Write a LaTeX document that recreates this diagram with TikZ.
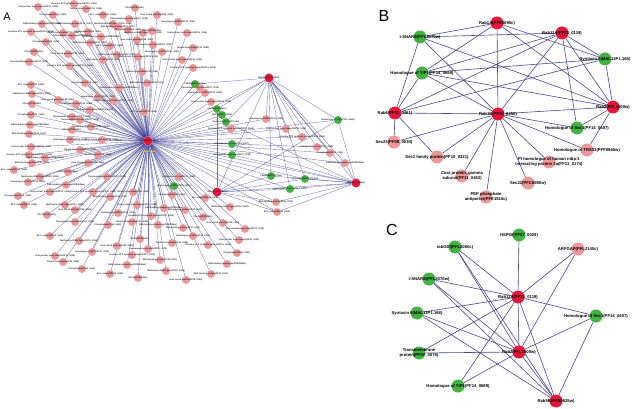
\documentclass[tikz,border=0pt]{standalone}
\usepackage{fontspec}
\setmainfont{Liberation Sans}
\usetikzlibrary{backgrounds}
\definecolor{nred}{RGB}{230,22,58}
\definecolor{ngreen}{RGB}{66,178,66}
\definecolor{npink}{RGB}{238,150,152}
\definecolor{edgeA}{RGB}{58,58,150}
\definecolor{edgeB}{RGB}{72,72,140}
\definecolor{hlyellow}{RGB}{235,215,40}
\newcommand\alab[1]{\ifcase#1 Homologue of ARF1(PF10\_0203)\or Coat protein, beta subunit(PF11\_0135)\or Vacuolar ATP synthase subunit(PF13\_0065)\or Tubulin beta chain(PF10\_0084)\or Phosphatase(PF14\_0142)\or DNA-binding chaperone(PFB0595w)\or RNA binding protein(PF10\_0217)\or EF-1 subunit(PF13\_0304)\or Methionine tRNA ligase(PF10\_0053)\or PDI-11(PFE0925c)\or Heat shock protein(PF08\_0054)\or Transmembrane protein(PF07\_0078)\fi}
\tikzset{
  nA/.style={circle, inner sep=0pt, minimum size=8pt},
  pinkA/.style={nA, fill=npink},
  greenA/.style={nA, fill=ngreen},
  redA/.style={nA, fill=nred, minimum size=9pt},
  tinylab/.style={font=\fontsize{2.2}{2.5}\selectfont\bfseries, text=black!85},
  nB/.style={circle, inner sep=0pt, minimum size=13pt},
  pinkB/.style={nB, fill=npink},
  greenB/.style={nB, fill=ngreen},
  redB/.style={nB, fill=nred},
  blab/.style={font=\fontsize{4.2}{4.8}\selectfont\bfseries, align=center},
  eA/.style={draw=edgeA, line width=0.35pt, opacity=0.7},
  eB/.style={draw=edgeB, line width=0.6pt},
  panelA/.style={font=\fontsize{11}{11}\selectfont},
  panel/.style={font=\fontsize{16}{16}\selectfont}
}
\begin{document}
\begin{tikzpicture}[x=1pt,y=-1pt]
\useasboundingbox (0,0) rectangle (632,409);
\begin{scope}[on background layer]
\fill[white] (0,0) rectangle (632,409);
\end{scope}
% ---------------- Panel A ----------------
\node[panelA] (labA) at (7,17) {A};
\node[redA] (hub) at (148,141) {};
\foreach \x/\y [count=\i] in {38/7,74/4,86/9,53/15,42/24,75/24,103/15,113/24,135/8,157/15,129/19,178/22,187/33,31/32,63/33,88/32,101/37,118/27,128/30,143/33,152/31,137/40,153/45,162/52,182/60,193/68,193/48,46/42,72/36,90/43,110/46,117/55,34/52,68/54,29/62,103/60,138/57,70/66,142/72,85/83,119/88,147/83,31/85,32/94,32/104,58/100,72/117,98/97,113/101,90/110,76/104,31/115,30/125,29/134,144/112,91/127,72/130,102/140,80/120,70/140,31/147,29/155,80/150,98/155,45/158,32/163,14/170,40/177,68/172,88/163,107/177,28/182,50/192,93/192,133/192,18/196,66/185,110/197,24/205,65/205,47/215,75/210,75/222,118/213,137/205,151/216,132/222,108/225,158/225,183/228,50/236,79/241,140/239,117/246,148/249,92/252,55/256,132/255,63/262,82/269,127/265,160/260,110/274,166/271,138/278,186/280,200/88,205/93,211/102,231/129,179/177,172/195,164/208,185/210,205/198,230/207,203/217,223/223,245/229,193/236,239/240,208/245,172/243,237/253,227/264,211/274} {
  \pgfmathtruncatemacro\k{mod(\i,12)}
  \node[pinkA] (p\i) at (\x,\y) {};
  \node[tinylab] (pl\i) at (p\i) {\alab{\k}};
  \begin{pgfonlayer}{background}
    \draw[eA] (hub) -- (p\i);
  \end{pgfonlayer}
}
% right-cluster pink
\foreach \n/\x/\y/\k in {q1/266/119/0,q2/286/129/1,q3/302/137/2,q4/317/147/3,q5/330/153/4,q6/345/163/5,q7/276/202/6,q8/277/212/7} {
  \node[pinkA] (\n) at (\x,\y) {};
  \node[tinylab] (\n l) at (\n) {\alab{\k}};
}
% green A
\foreach \n/\x/\y/\t in {g1/195/84/t-SNARE(PFL2070w),g2/217/109/rabGDI(PFL2060c),g3/222/115/HSP68(PF07\_0029),g4/226/122/Syntaxin 5(MAL13P1.168),g5/232/144/Homologue of Sec1(PF14\_0407),g6/232/155/Transmembrane protein(PF07\_0078),g7/338/120/Homologue of YIP1(PF14\_0689),g8/271/176/t-SNARE(PFL2070w),g9/305/179/Syntaxin 5(MAL13P1.168),g10/290/189/Homologue of Sec1(PF14\_0407),g11/174/186/Homologue of YIP1(PF14\_0689)} {
  \node[greenA] (\n) at (\x,\y) {};
  \node[tinylab] (\n l) at (\n) {\t};
}
\node[redA] (rT) at (269,78) {};
\node[tinylab] (rTl) at (rT) {Rab11A(PF13\_0119)};
\node[redA] (rR) at (356,183) {};
\node[tinylab] (rRl) at (rR) {Rab2(PFL1500w)};
\node[redA] (rB) at (217,192) {};
\node[tinylab] (rBl) at (rB) {Rab1A(PFE0690c)};
\node[tinylab] (hubl) at (hub) {Rab5B(PFE0625w)};
\node[font=\fontsize{2.6}{2.8}\selectfont\bfseries, text=hlyellow] (hubsel) at (149,152) {PFE0625w};
\begin{scope}[on background layer]
\foreach \n in {q1,q2,q3,q4,q5,q6,q7,q8,g1,g2,g3,g4,g5,g6,g7,g8,g9,g10,g11,rT,rR,rB}
  \draw[eA] (hub) -- (\n);
\foreach \n in {g1,g2,g4,q1,q2,q3,q4,q5,q6,g7,g8,g9,g10,rB,rR}
  \draw[eA] (rT) -- (\n);
\foreach \n in {g7,g5,g6,g8,g9,g10,q7,q8,rB,g4,q6}
  \draw[eA] (rR) -- (\n);
\foreach \n in {g2,g7,g8,g9,g10,q7,q8}
  \draw[eA] (rB) -- (\n);
\end{scope}
% ---------------- Panel B ----------------
\node[panel] (labB) at (384,16) {B};
\node[redB] (R6) at (497,23) {};
\node[redB] (R11) at (562,33) {};
\node[greenB] (TS) at (420,37) {};
\node[greenB] (SX) at (605,59) {};
\node[greenB] (YIP) at (422,73) {};
\node[redB] (R7) at (395,113) {};
\node[redB] (RC) at (498,114) {};
\node[redB] (R2) at (613,107) {};
\node[greenB] (S1) at (577,128) {};
\node[pinkB] (Sec2) at (394,142) {};
\node[pinkB] (S1F) at (437,157) {};
\node[pinkB] (Coat) at (462,176) {};
\node[pinkB] (PEP) at (486,197) {};
\node[pinkB] (Sec22) at (528,183) {};
\node[pinkB] (PI) at (549,162) {};
\node[pinkB] (TRS) at (587,150) {};
\begin{scope}[on background layer]
\foreach \a/\b in {R6/TS,R6/YIP,R6/RC,R6/SX,R6/R2,R11/TS,R11/YIP,R11/R7,R11/RC,R11/S1,R11/R2,R11/SX,TS/RC,TS/R2,TS/R7,SX/R7,SX/R2,SX/YIP,YIP/R2,YIP/R7,YIP/RC,R7/RC,RC/R2,RC/S1,RC/Sec2,RC/S1F,RC/Coat,RC/PEP,RC/Sec22,RC/PI,RC/TRS,S1/R2,R2/TRS,R7/Sec2,R7/S1F}
  \draw[eB] (\a) -- (\b);
\end{scope}
\node[blab] at (R6) {Rab1A(PFE0690c)};
\node[blab] at (R11) {Rab11A(PF13\_0119)};
\node[blab] at (TS) {t-SNARE(PFL2070w)};
\node[blab] at (SX) {Syntaxin 5(MAL13P1.168)};
\node[blab] at (YIP) {Homologue of YIP1(PF14\_0689)};
\node[blab] at (R7) {Rab6(PF11\_0461)};
\node[blab] at (RC) {Rab1B(PF10\_0250)};
\node[blab] at (R2) {Rab2(PFL1500w)};
\node[blab] at (S1) {Homologue of Sec1(PF14\_0407)};
\node[blab] at (Sec2) {Sec23(PF08\_0030)};
\node[blab] at (S1F) {Sec1 family protein(PF10\_0331)};
\node[blab] at (Coat) {Coat protein, gamma\\subunit(PF11\_0463)};
\node[blab] at (PEP) {PEP phosphate\\antiporter(PFE1510c)};
\node[blab] at (Sec22) {Sec22(PFC0890w)};
\node[blab] at (PI) {PI homologue of human nibp-1\\interacting protein 2a(PF13\_0174)};
\node[blab] at (TRS) {Homologue of TRS33(PFF0960w)};
% ---------------- Panel C ----------------
\node[panel] (labC) at (392,230) {C};
\node[greenB] (HSP) at (519,235) {};
\node[greenB] (GDI) at (455,247) {};
\node[pinkB] (ARF) at (578,249) {};
\node[greenB] (TSc) at (429,279) {};
\node[redB] (R11c) at (518,297) {};
\node[greenB] (SXc) at (417,313) {};
\node[greenB] (S1c) at (596,316) {};
\node[redB] (R2c) at (519,352) {};
\node[greenB] (TM) at (419,353) {};
\node[greenB] (YIPc) at (458,386) {};
\node[redB] (R5) at (556,401) {};
\begin{scope}[on background layer]
\foreach \a/\b in {HSP/R11c,GDI/R11c,GDI/R2c,GDI/R5,ARF/R11c,ARF/R2c,TSc/R11c,TSc/R2c,TSc/R5,SXc/R11c,SXc/R2c,SXc/R5,R11c/S1c,R11c/R2c,R11c/TM,R11c/YIPc,R11c/R5,S1c/R2c,S1c/R5,R2c/TM,R2c/YIPc,R2c/R5}
  \draw[eB] (\a) -- (\b);
\end{scope}
\node[blab] at (HSP) {HSP68(PF07\_0029)};
\node[blab] at (GDI) {rabGDI(PFL2060c)};
\node[blab] at (ARF) {ARFGAP(PFL2140c)};
\node[blab] at (TSc) {t-SNARE(PFL2070w)};
\node[blab] at (R11c) {Rab11A(PF13\_0119)};
\node[blab] at (SXc) {Syntaxin 5(MAL13P1.168)};
\node[blab] at (S1c) {Homologue of Sec1(PF14\_0407)};
\node[blab] at (R2c) {Rab2(PFL1500w)};
\node[blab] at (TM) {Transmembrane\\protein(PF07\_0078)};
\node[blab] at (YIPc) {Homologue of YIP1(PF14\_0689)};
\node[blab] at (R5) {Rab5B(PFE0625w)};
\end{tikzpicture}
\end{document}
